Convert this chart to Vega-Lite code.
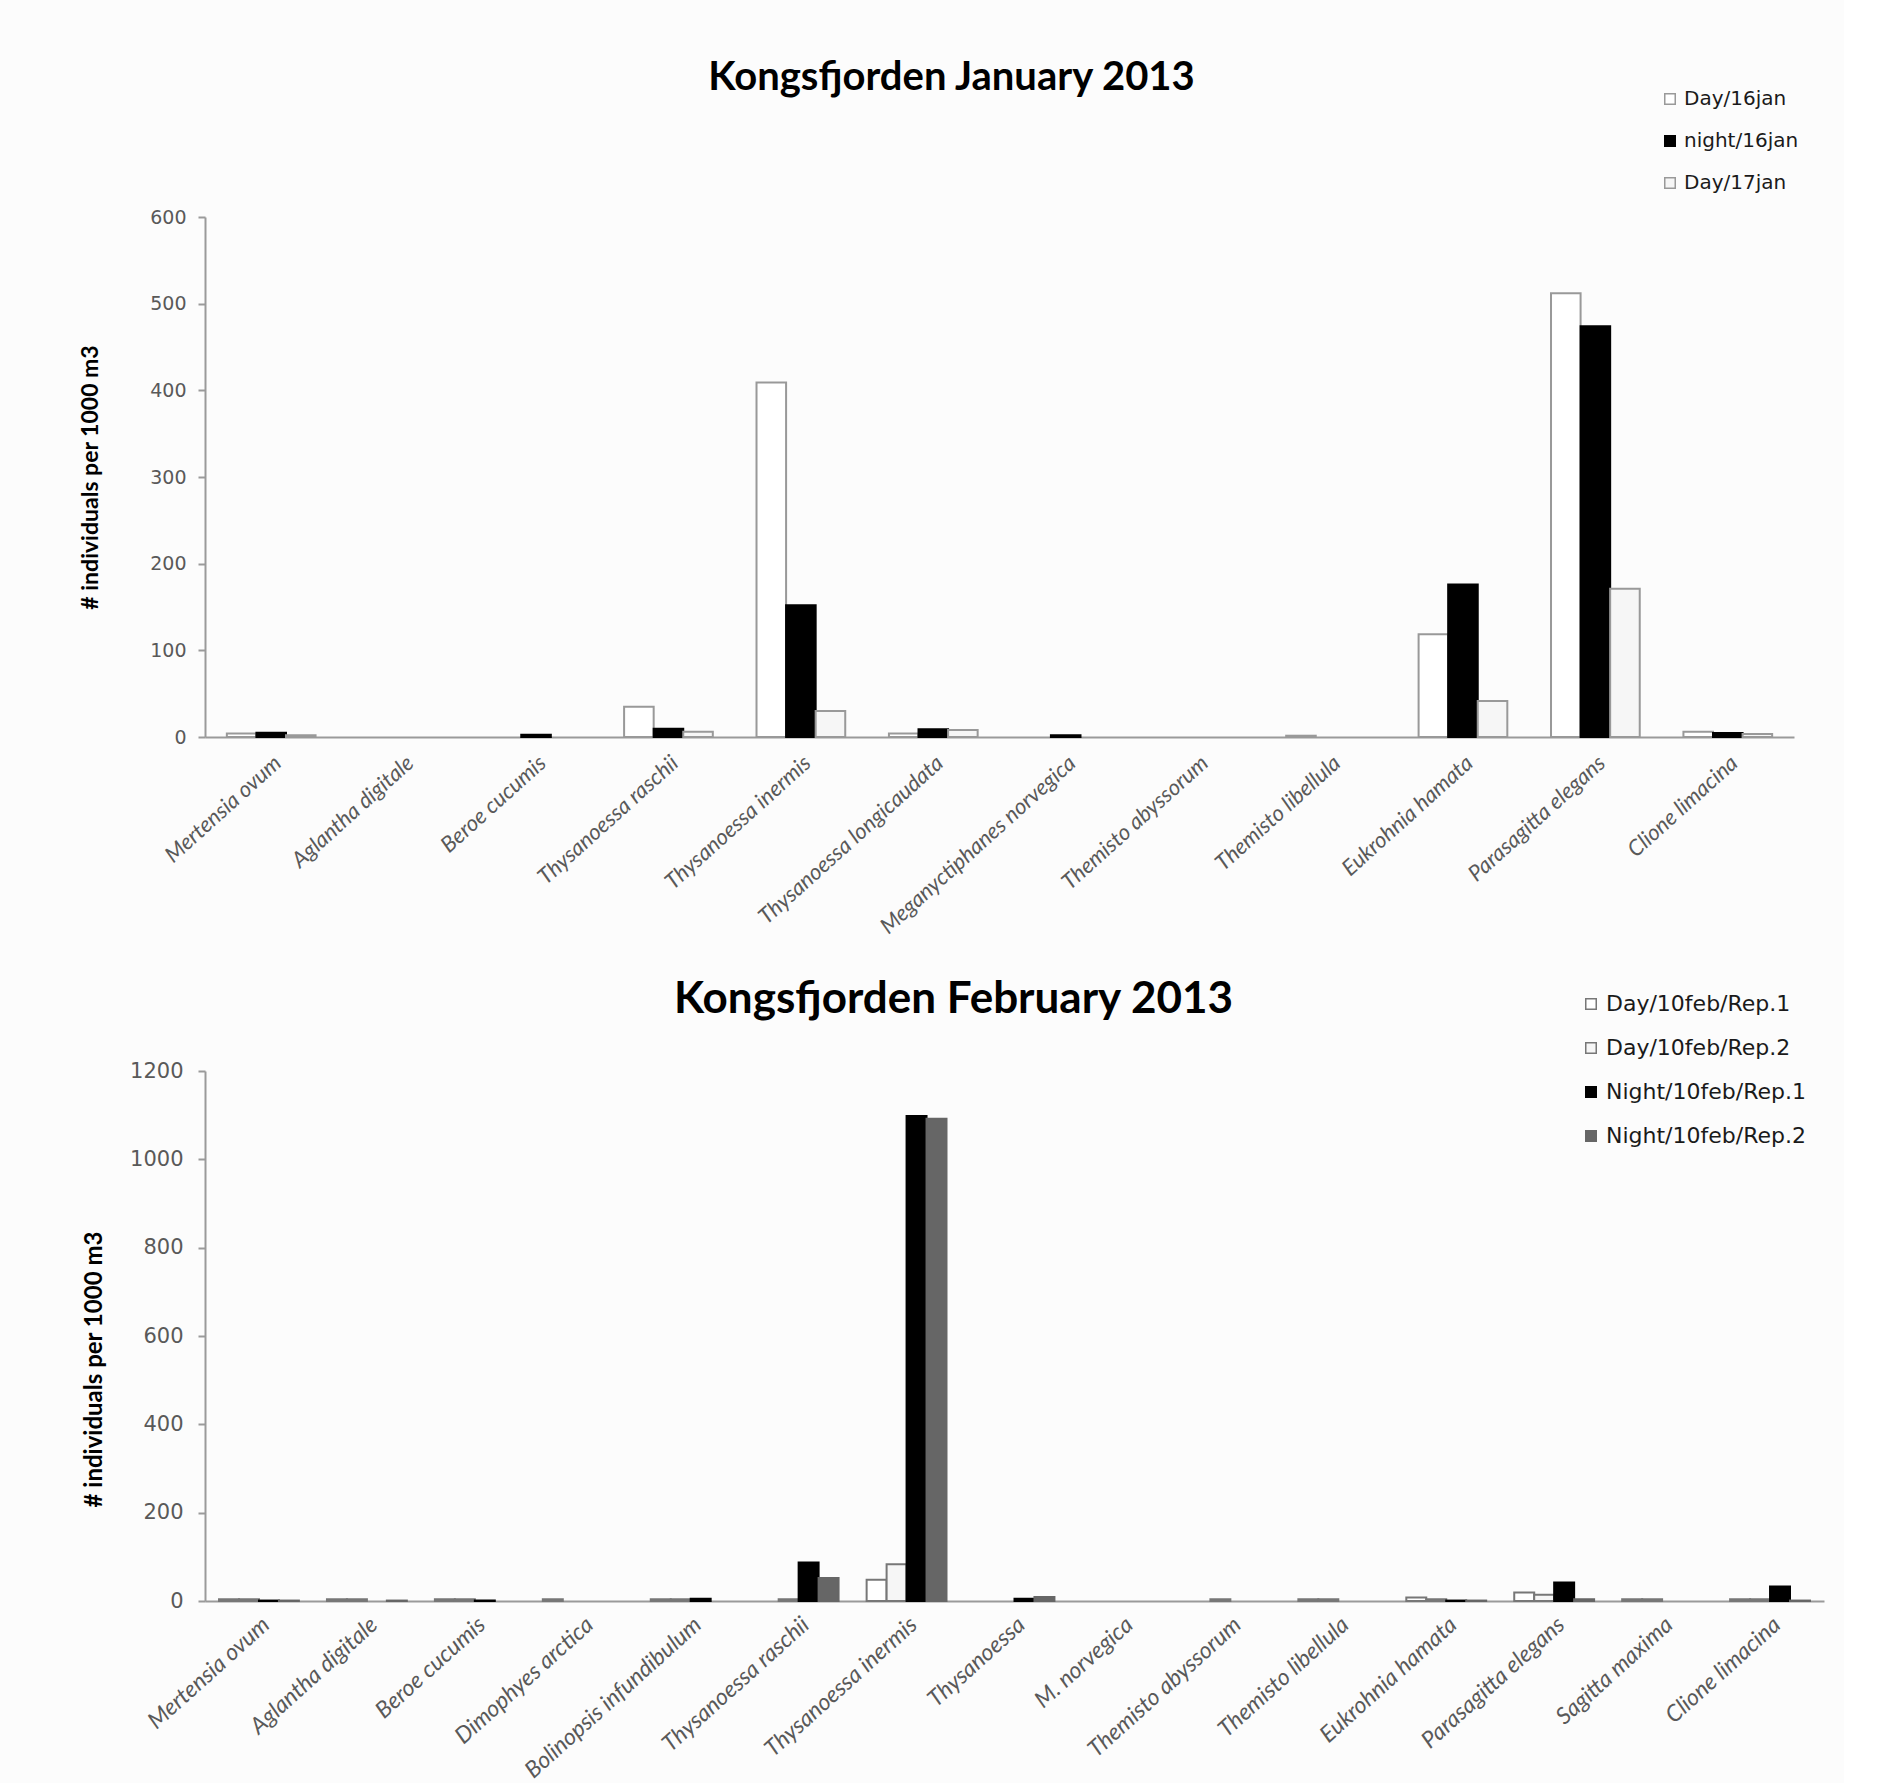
{
  "$schema": "https://vega.github.io/schema/vega-lite/v6.json",
  "background": "#fcfcfc",
  "padding": {"left": 79, "top": 58, "right": 20, "bottom": 0},
  "spacing": 40,
  "datasets": {
    "jan": [
      {"species": "Mertensia ovum", "series": "Day/16jan", "value": 4},
      {"species": "Mertensia ovum", "series": "night/16jan", "value": 5},
      {"species": "Mertensia ovum", "series": "Day/17jan", "value": 2},
      {"species": "Aglantha digitale", "series": "Day/16jan", "value": 0},
      {"species": "Aglantha digitale", "series": "night/16jan", "value": 0},
      {"species": "Aglantha digitale", "series": "Day/17jan", "value": 0},
      {"species": "Beroe cucumis", "series": "Day/16jan", "value": 0},
      {"species": "Beroe cucumis", "series": "night/16jan", "value": 2.5},
      {"species": "Beroe cucumis", "series": "Day/17jan", "value": 0},
      {"species": "Thysanoessa raschii", "series": "Day/16jan", "value": 35},
      {"species": "Thysanoessa raschii", "series": "night/16jan", "value": 9.5},
      {"species": "Thysanoessa raschii", "series": "Day/17jan", "value": 6},
      {"species": "Thysanoessa inermis", "series": "Day/16jan", "value": 409},
      {"species": "Thysanoessa inermis", "series": "night/16jan", "value": 152},
      {"species": "Thysanoessa inermis", "series": "Day/17jan", "value": 30},
      {"species": "Thysanoessa longicaudata", "series": "Day/16jan", "value": 4},
      {"species": "Thysanoessa longicaudata", "series": "night/16jan", "value": 9},
      {"species": "Thysanoessa longicaudata", "series": "Day/17jan", "value": 8},
      {"species": "Meganyctiphanes norvegica", "series": "Day/16jan", "value": 0},
      {"species": "Meganyctiphanes norvegica", "series": "night/16jan", "value": 2},
      {"species": "Meganyctiphanes norvegica", "series": "Day/17jan", "value": 0},
      {"species": "Themisto abyssorum", "series": "Day/16jan", "value": 0},
      {"species": "Themisto abyssorum", "series": "night/16jan", "value": 0},
      {"species": "Themisto abyssorum", "series": "Day/17jan", "value": 0},
      {"species": "Themisto libellula", "series": "Day/16jan", "value": 1.5},
      {"species": "Themisto libellula", "series": "night/16jan", "value": 0},
      {"species": "Themisto libellula", "series": "Day/17jan", "value": 0},
      {"species": "Eukrohnia hamata", "series": "Day/16jan", "value": 118.5},
      {"species": "Eukrohnia hamata", "series": "night/16jan", "value": 176},
      {"species": "Eukrohnia hamata", "series": "Day/17jan", "value": 41.5},
      {"species": "Parasagitta elegans", "series": "Day/16jan", "value": 512},
      {"species": "Parasagitta elegans", "series": "night/16jan", "value": 474},
      {"species": "Parasagitta elegans", "series": "Day/17jan", "value": 171},
      {"species": "Clione limacina", "series": "Day/16jan", "value": 6},
      {"species": "Clione limacina", "series": "night/16jan", "value": 4.5},
      {"species": "Clione limacina", "series": "Day/17jan", "value": 3.5}
    ],
    "feb": [
      {"species": "Mertensia ovum", "series": "Day/10feb/Rep.1", "value": 4},
      {"species": "Mertensia ovum", "series": "Day/10feb/Rep.2", "value": 4},
      {"species": "Mertensia ovum", "series": "Night/10feb/Rep.1", "value": 1},
      {"species": "Mertensia ovum", "series": "Night/10feb/Rep.2", "value": 1},
      {"species": "Aglantha digitale", "series": "Day/10feb/Rep.1", "value": 4},
      {"species": "Aglantha digitale", "series": "Day/10feb/Rep.2", "value": 4},
      {"species": "Aglantha digitale", "series": "Night/10feb/Rep.1", "value": 0},
      {"species": "Aglantha digitale", "series": "Night/10feb/Rep.2", "value": 1},
      {"species": "Beroe cucumis", "series": "Day/10feb/Rep.1", "value": 4},
      {"species": "Beroe cucumis", "series": "Day/10feb/Rep.2", "value": 4},
      {"species": "Beroe cucumis", "series": "Night/10feb/Rep.1", "value": 1},
      {"species": "Beroe cucumis", "series": "Night/10feb/Rep.2", "value": 0},
      {"species": "Dimophyes arctica", "series": "Day/10feb/Rep.1", "value": 4},
      {"species": "Dimophyes arctica", "series": "Day/10feb/Rep.2", "value": 0},
      {"species": "Dimophyes arctica", "series": "Night/10feb/Rep.1", "value": 0},
      {"species": "Dimophyes arctica", "series": "Night/10feb/Rep.2", "value": 0},
      {"species": "Bolinopsis infundibulum", "series": "Day/10feb/Rep.1", "value": 4},
      {"species": "Bolinopsis infundibulum", "series": "Day/10feb/Rep.2", "value": 4},
      {"species": "Bolinopsis infundibulum", "series": "Night/10feb/Rep.1", "value": 5},
      {"species": "Bolinopsis infundibulum", "series": "Night/10feb/Rep.2", "value": 0},
      {"species": "Thysanoessa raschii", "series": "Day/10feb/Rep.1", "value": 0},
      {"species": "Thysanoessa raschii", "series": "Day/10feb/Rep.2", "value": 4},
      {"species": "Thysanoessa raschii", "series": "Night/10feb/Rep.1", "value": 87},
      {"species": "Thysanoessa raschii", "series": "Night/10feb/Rep.2", "value": 52},
      {"species": "Thysanoessa inermis", "series": "Day/10feb/Rep.1", "value": 48},
      {"species": "Thysanoessa inermis", "series": "Day/10feb/Rep.2", "value": 83},
      {"species": "Thysanoessa inermis", "series": "Night/10feb/Rep.1", "value": 1098},
      {"species": "Thysanoessa inermis", "series": "Night/10feb/Rep.2", "value": 1092},
      {"species": "Thysanoessa", "series": "Day/10feb/Rep.1", "value": 0},
      {"species": "Thysanoessa", "series": "Day/10feb/Rep.2", "value": 0},
      {"species": "Thysanoessa", "series": "Night/10feb/Rep.1", "value": 5},
      {"species": "Thysanoessa", "series": "Night/10feb/Rep.2", "value": 9},
      {"species": "M. norvegica", "series": "Day/10feb/Rep.1", "value": 0},
      {"species": "M. norvegica", "series": "Day/10feb/Rep.2", "value": 0},
      {"species": "M. norvegica", "series": "Night/10feb/Rep.1", "value": 0},
      {"species": "M. norvegica", "series": "Night/10feb/Rep.2", "value": 0},
      {"species": "Themisto abyssorum", "series": "Day/10feb/Rep.1", "value": 0},
      {"species": "Themisto abyssorum", "series": "Day/10feb/Rep.2", "value": 4},
      {"species": "Themisto abyssorum", "series": "Night/10feb/Rep.1", "value": 0},
      {"species": "Themisto abyssorum", "series": "Night/10feb/Rep.2", "value": 0},
      {"species": "Themisto libellula", "series": "Day/10feb/Rep.1", "value": 4},
      {"species": "Themisto libellula", "series": "Day/10feb/Rep.2", "value": 4},
      {"species": "Themisto libellula", "series": "Night/10feb/Rep.1", "value": 0},
      {"species": "Themisto libellula", "series": "Night/10feb/Rep.2", "value": 0},
      {"species": "Eukrohnia hamata", "series": "Day/10feb/Rep.1", "value": 8},
      {"species": "Eukrohnia hamata", "series": "Day/10feb/Rep.2", "value": 4},
      {"species": "Eukrohnia hamata", "series": "Night/10feb/Rep.1", "value": 1},
      {"species": "Eukrohnia hamata", "series": "Night/10feb/Rep.2", "value": 1},
      {"species": "Parasagitta elegans", "series": "Day/10feb/Rep.1", "value": 19},
      {"species": "Parasagitta elegans", "series": "Day/10feb/Rep.2", "value": 14},
      {"species": "Parasagitta elegans", "series": "Night/10feb/Rep.1", "value": 42},
      {"species": "Parasagitta elegans", "series": "Night/10feb/Rep.2", "value": 4},
      {"species": "Sagitta maxima", "series": "Day/10feb/Rep.1", "value": 4},
      {"species": "Sagitta maxima", "series": "Day/10feb/Rep.2", "value": 4},
      {"species": "Sagitta maxima", "series": "Night/10feb/Rep.1", "value": 0},
      {"species": "Sagitta maxima", "series": "Night/10feb/Rep.2", "value": 0},
      {"species": "Clione limacina", "series": "Day/10feb/Rep.1", "value": 4},
      {"species": "Clione limacina", "series": "Day/10feb/Rep.2", "value": 4},
      {"species": "Clione limacina", "series": "Night/10feb/Rep.1", "value": 33},
      {"species": "Clione limacina", "series": "Night/10feb/Rep.2", "value": 1}
    ]
  },
  "vconcat": [
    {
      "data": {"name": "jan"},
      "transform": [{"filter": "datum.value > 0"}],
      "title": {"text": "Kongsfjorden January 2013", "font": "Lato", "fontSize": 40, "fontWeight": "bold", "color": "#000000", "anchor": "middle", "dx": -48, "offset": -9},
      "width": 1589,
      "height": 520,
      "mark": {"type": "bar", "strokeWidth": 2},
      "encoding": {
        "x": {
          "field": "species", "type": "nominal", "title": null,
          "scale": {"domain": ["Mertensia ovum", "Aglantha digitale", "Beroe cucumis", "Thysanoessa raschii", "Thysanoessa inermis", "Thysanoessa longicaudata", "Meganyctiphanes norvegica", "Themisto abyssorum", "Themisto libellula", "Eukrohnia hamata", "Parasagitta elegans", "Clione limacina"], "paddingInner": 0.33, "paddingOuter": 0.165},
          "axis": {"labelFontSize": 22}
        },
        "xOffset": {"field": "series", "type": "nominal", "scale": {"domain": ["Day/16jan", "night/16jan", "Day/17jan"], "paddingInner": 0, "paddingOuter": 0}},
        "y": {
          "field": "value", "type": "quantitative", "title": "# individuals per 1000 m3",
          "scale": {"domain": [0, 600]},
          "axis": {"values": [0, 100, 200, 300, 400, 500, 600], "format": "d", "labelFontSize": 19, "labelPadding": 12, "titleFontSize": 23, "titlePadding": 47}
        },
        "fill": {
          "field": "series", "type": "nominal",
          "scale": {"domain": ["Day/16jan", "night/16jan", "Day/17jan"], "range": ["#ffffff", "#000000", "#f6f6f6"]},
          "legend": {"orient": "none", "legendX": 1455, "legendY": -128, "labelFontSize": 20, "rowPadding": 22}
        },
        "stroke": {
          "field": "series", "type": "nominal",
          "scale": {"domain": ["Day/16jan", "night/16jan", "Day/17jan"], "range": ["#999999", "#000000", "#999999"]},
          "legend": {"orient": "none", "legendX": 1455, "legendY": -128, "labelFontSize": 20, "rowPadding": 22}
        }
      }
    },
    {
      "data": {"name": "feb"},
      "transform": [{"filter": "datum.value > 0"}],
      "title": {"text": "Kongsfjorden February 2013", "font": "Lato", "fontSize": 44, "fontWeight": "bold", "color": "#000000", "anchor": "middle", "dx": -61, "offset": -29},
      "width": 1619,
      "height": 530,
      "mark": {"type": "bar", "strokeWidth": 2},
      "encoding": {
        "x": {
          "field": "species", "type": "nominal", "title": null,
          "scale": {"domain": ["Mertensia ovum", "Aglantha digitale", "Beroe cucumis", "Dimophyes arctica", "Bolinopsis infundibulum", "Thysanoessa raschii", "Thysanoessa inermis", "Thysanoessa", "M. norvegica", "Themisto abyssorum", "Themisto libellula", "Eukrohnia hamata", "Parasagitta elegans", "Sagitta maxima", "Clione limacina"], "paddingInner": 0.26, "paddingOuter": 0.13},
          "axis": {"labelFontSize": 23, "labelPadding": 12}
        },
        "xOffset": {"field": "series", "type": "nominal", "scale": {"domain": ["Day/10feb/Rep.1", "Day/10feb/Rep.2", "Night/10feb/Rep.1", "Night/10feb/Rep.2"], "paddingInner": 0, "paddingOuter": 0}},
        "y": {
          "field": "value", "type": "quantitative", "title": "# individuals per 1000 m3",
          "scale": {"domain": [0, 1200]},
          "axis": {"values": [0, 200, 400, 600, 800, 1000, 1200], "format": "d", "labelFontSize": 21, "labelPadding": 15, "titleFontSize": 24, "titlePadding": 23, "titleY": 298}
        },
        "fill": {
          "field": "series", "type": "nominal",
          "scale": {"domain": ["Day/10feb/Rep.1", "Day/10feb/Rep.2", "Night/10feb/Rep.1", "Night/10feb/Rep.2"], "range": ["#ffffff", "#f6f6f6", "#000000", "#666666"]},
          "legend": {"orient": "none", "legendX": 1375, "legendY": -78, "labelFontSize": 22, "rowPadding": 22}
        },
        "stroke": {
          "field": "series", "type": "nominal",
          "scale": {"domain": ["Day/10feb/Rep.1", "Day/10feb/Rep.2", "Night/10feb/Rep.1", "Night/10feb/Rep.2"], "range": ["#777777", "#777777", "#000000", "#666666"]},
          "legend": {"orient": "none", "legendX": 1375, "legendY": -78, "labelFontSize": 22, "rowPadding": 22}
        }
      }
    }
  ],
  "resolve": {"scale": {"fill": "independent", "stroke": "independent", "x": "independent", "y": "independent", "xOffset": "independent"}},
  "config": {
    "view": {"stroke": null},
    "axisX": {
      "labelAngle": -42, "labelFont": "Lato", "labelFontStyle": "italic", "labelColor": "#595959",
      "labelLimit": 400, "labelPadding": 15, "ticks": false,
      "domainColor": "#9a9a9a", "domainWidth": 2
    },
    "axisY": {
      "labelFont": "DejaVu Sans", "labelColor": "#595959",
      "tickSize": 7, "tickColor": "#9a9a9a", "tickWidth": 2,
      "domainColor": "#9a9a9a", "domainWidth": 2, "grid": false,
      "titleFont": "Lato", "titleFontWeight": "bold", "titleColor": "#000000"
    },
    "legend": {
      "title": null, "direction": "vertical", "symbolType": "square", "symbolSize": 110,
      "symbolStrokeWidth": 1.5, "labelFont": "DejaVu Sans", "labelColor": "#1a1a1a", "labelOffset": 4, "labelLimit": 400
    }
  }
}
